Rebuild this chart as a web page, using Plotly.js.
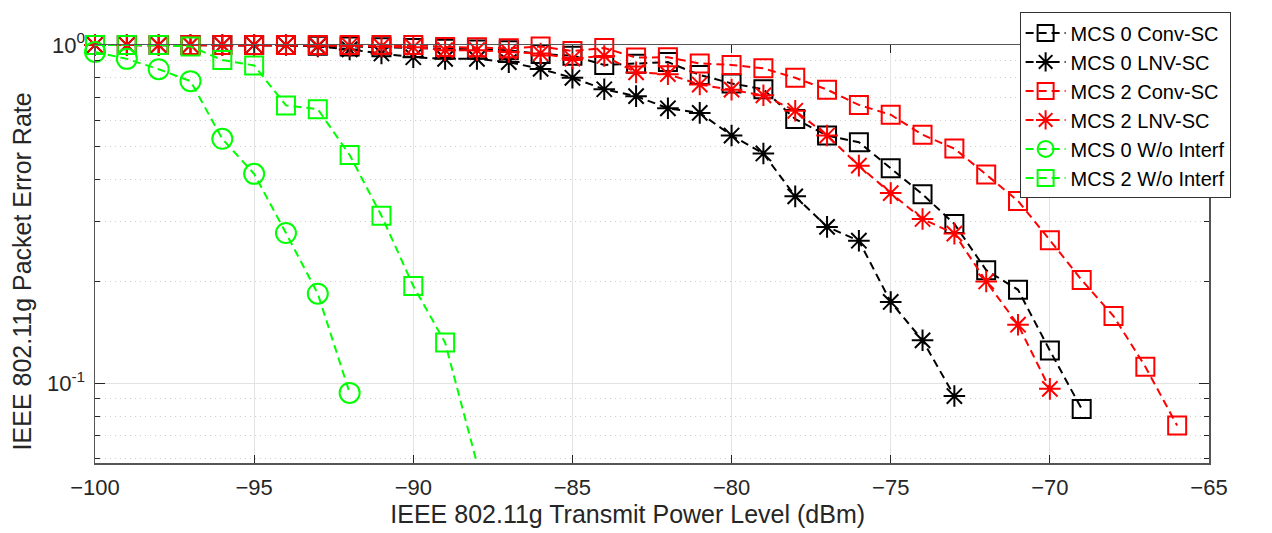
<!DOCTYPE html>
<html>
<head>
<meta charset="utf-8">
<script src="https://cdn.plot.ly/plotly-3.0.1.min.js"></script>
<style>html,body{margin:0;padding:0;background:#fff;}#chart{width:1272px;height:533px;}</style>
</head>
<body>
<div id="chart"></div>
<script>
// Transmit power levels (dBm)
const xMcs0Conv = [-100,-99,-98,-97,-96,-95,-94,-93,-92,-91,-90,-89,-88,-87,-86,-85,-84,-83,-82,-81,-80,-79,-78,-77,-76,-75,-74,-73,-72,-71,-70,-69];
const yMcs0Conv = [1.0,1.0,1.0,1.0,1.0,1.0,1.0,0.995,0.99,0.985,0.98,0.975,0.97,0.965,0.94,0.93,0.873,0.88,0.89,0.816,0.77,0.74,0.604,0.54,0.516,0.432,0.362,0.296,0.216,0.189,0.125,0.084];

const xMcs0Lnv = [-100,-99,-98,-97,-96,-95,-94,-93,-92,-91,-90,-89,-88,-87,-86,-85,-84,-83,-82,-81,-80,-79,-78,-77,-76,-75,-74,-73];
const yMcs0Lnv = [1.0,1.0,1.0,1.0,1.0,1.0,1.0,0.99,0.97,0.944,0.92,0.91,0.91,0.89,0.85,0.80,0.74,0.706,0.65,0.63,0.54,0.478,0.357,0.29,0.264,0.174,0.134,0.0917];

const xMcs2Conv = [-100,-99,-98,-97,-96,-95,-94,-93,-92,-91,-90,-89,-88,-87,-86,-85,-84,-83,-82,-81,-80,-79,-78,-77,-76,-75,-74,-73,-72,-71,-70,-69,-68,-67,-66];
const yMcs2Conv = [1.0,1.0,1.0,1.0,1.0,1.0,1.0,1.0,1.0,1.0,1.0,0.987,0.985,0.978,0.99,0.96,0.98,0.918,0.92,0.882,0.873,0.853,0.80,0.738,0.665,0.622,0.543,0.494,0.414,0.346,0.265,0.202,0.158,0.112,0.075];

const xMcs2Lnv = [-100,-99,-98,-97,-96,-95,-94,-93,-92,-91,-90,-89,-88,-87,-86,-85,-84,-83,-82,-81,-80,-79,-78,-77,-76,-75,-74,-73,-72,-71,-70];
const yMcs2Lnv = [1.0,1.0,1.0,1.0,1.0,1.0,1.0,0.995,0.995,0.99,0.985,0.965,0.965,0.954,0.944,0.912,0.928,0.83,0.82,0.764,0.738,0.71,0.639,0.54,0.44,0.365,0.306,0.277,0.20,0.149,0.0963];

const xMcs0NoInt = [-100,-99,-98,-97,-96,-95,-94,-93,-92];
const yMcs0NoInt = [0.954,0.91,0.848,0.782,0.528,0.416,0.278,0.184,0.0937];

const xMcs2NoInt = [-100,-99,-98,-97,-96,-95,-94,-93,-92,-91,-90,-89,-88];
const yMcs2NoInt = [1.0,1.0,1.0,0.99,0.903,0.87,0.663,0.646,0.473,0.313,0.194,0.132,0.0581];

const seriesNames = ["MCS 0 Conv-SC","MCS 0 LNV-SC","MCS 2 Conv-SC","MCS 2 LNV-SC","MCS 0 W/o Interf","MCS 2 W/o Interf"];

const xTickVals = [-100,-95,-90,-85,-80,-75,-70,-65];
const yTickVals = [0.1, 1];
const yTickText = ["10<sup>-1</sup>","10<sup>0</sup>"];
const yMinorVals = [0.06,0.07,0.08,0.09,0.2,0.3,0.4,0.5,0.6,0.7,0.8,0.9];

const xTitle = 'IEEE 802.11g Transmit Power Level (dBm)';
const yTitle = 'IEEE 802.11g Packet Error Rate';

function tr(x, y, name, color, symbol, size) {
  return {
    x: x, y: y, name: name, type: 'scatter', mode: 'lines+markers',
    cliponaxis: false,
    line: {color: color, width: 2, dash: '8px,5px'},
    marker: {symbol: symbol, size: size, color: color, line: {color: color, width: 2}}
  };
}

const data = [
  tr(xMcs0Conv, yMcs0Conv, seriesNames[0], '#000000', 'square-open', 18),
  tr(xMcs0Lnv, yMcs0Lnv, seriesNames[1], '#000000', 'asterisk-open', 18),
  tr(xMcs2Conv, yMcs2Conv, seriesNames[2], '#ff0000', 'square-open', 18),
  tr(xMcs2Lnv, yMcs2Lnv, seriesNames[3], '#ff0000', 'asterisk-open', 18),
  tr(xMcs0NoInt, yMcs0NoInt, seriesNames[4], '#00ff00', 'circle-open', 20),
  tr(xMcs2NoInt, yMcs2NoInt, seriesNames[5], '#00ff00', 'square-open', 18)
];

const FAM = 'Liberation Sans, Arial, sans-serif';
const tickFont = {family: FAM, size: 22, color: '#262626'};
const titleFont = {family: FAM, size: 25, color: '#262626'};
const pad = (n) => '&nbsp;'.repeat(n);

const layout = {
  width: 1272, height: 533,
  margin: {l: 95, r: 63, t: 38, b: 70, pad: 0},
  paper_bgcolor: '#ffffff', plot_bgcolor: '#ffffff',
  font: tickFont,
  showlegend: true,
  legend: {
    x: 0.830, y: 1.078, xanchor: 'left', yanchor: 'top',
    bgcolor: '#ffffff', bordercolor: '#333333', borderwidth: 1,
    font: {family: FAM, size: 20, color: '#000000'},
    itemwidth: 40,
    tracegroupgap: 0
  },
  xaxis: {
    range: [-100, -65],
    tickmode: 'array', tickvals: xTickVals,
    ticks: 'inside', ticklen: 8, tickcolor: '#262626', tickwidth: 1,
    showline: true, linecolor: '#555555', linewidth: 1.5, mirror: 'ticks',
    showgrid: true, gridcolor: '#e3e3e3', gridwidth: 1,
    zeroline: false,
    tickfont: tickFont,
    ticklabelstandoff: 4,
    title: {text: xTitle + pad(7), font: titleFont, standoff: 6}
  },
  yaxis: {
    type: 'log',
    range: [-1.2355, 0],
    tickmode: 'array', tickvals: yTickVals, ticktext: yTickText,
    ticks: 'inside', ticklen: 10, tickcolor: '#262626', tickwidth: 1,
    showline: true, linecolor: '#555555', linewidth: 1.5, mirror: 'ticks',
    showgrid: true, gridcolor: '#e3e3e3', gridwidth: 1,
    zeroline: false,
    tickfont: tickFont,
    ticklabelstandoff: 4,
    minor: {tickmode: 'array', tickvals: yMinorVals, ticks: 'inside', ticklen: 5, tickcolor: '#262626',
            showgrid: true, gridcolor: '#cfcfcf', griddash: '1px,4px', gridwidth: 1},
    title: {text: yTitle + pad(5), font: titleFont, standoff: 8}
  }
};

Plotly.newPlot('chart', data, layout, {displayModeBar: false, staticPlot: true});
</script>
</body>
</html>
